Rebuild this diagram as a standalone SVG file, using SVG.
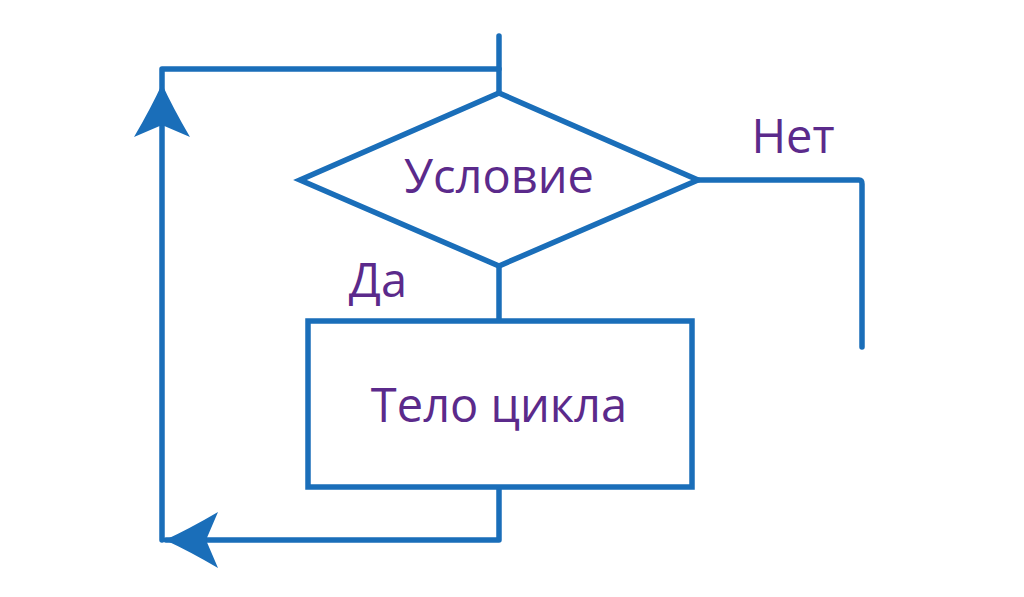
<svg xmlns="http://www.w3.org/2000/svg" xmlns:xlink="http://www.w3.org/1999/xlink" width="1024" height="597" viewBox="0 0 1024 597">
<style>
.ln{fill:none;stroke:#1a6eb9;stroke-width:5.5;stroke-linecap:round;stroke-linejoin:round}
.sh{fill:#fff;stroke:#1a6eb9;stroke-width:5.5;stroke-linejoin:miter}
.tx{font-family:"Open Sans","Noto Sans",sans-serif;fill:#5b2a8b;text-anchor:middle}
.ah{fill:#1a6eb9}
</style>
<defs>
<path id="arrow" class="ah" d="M0,0 Q-24,-11 -53,-28 L-41,0 L-53,28 Q-24,11 0,0 Z"/>
</defs>
<rect width="1024" height="597" fill="#fff"/>
<g id="connectors">
<path class="ln" d="M499,36 V93"/>
<path class="ln" d="M499,69 H162 V540"/>
<path class="ln" d="M499,266 V321"/>
<path class="ln" d="M499,487 V540 H166"/>
<path class="ln" d="M698,180 H859 Q862,180 862,184 V347"/>
<use xlink:href="#arrow" transform="translate(162,84) rotate(-90)"/>
<use xlink:href="#arrow" transform="translate(165,540) rotate(180)"/>
</g>
<g id="condition">
<polygon class="sh" points="499,93 698,180 499,266 300,180"/>
<text class="tx" x="499" y="193" font-size="47">Условие</text>
</g>
<g id="body">
<rect class="sh" x="308" y="321" width="384" height="166"/>
<text class="tx" x="499" y="422" font-size="47">Тело цикла</text>
</g>
<g id="labels">
<text class="tx" x="793" y="153" font-size="47">Нет</text>
<text class="tx" x="378" y="297" font-size="47">Да</text>
</g>
</svg>
